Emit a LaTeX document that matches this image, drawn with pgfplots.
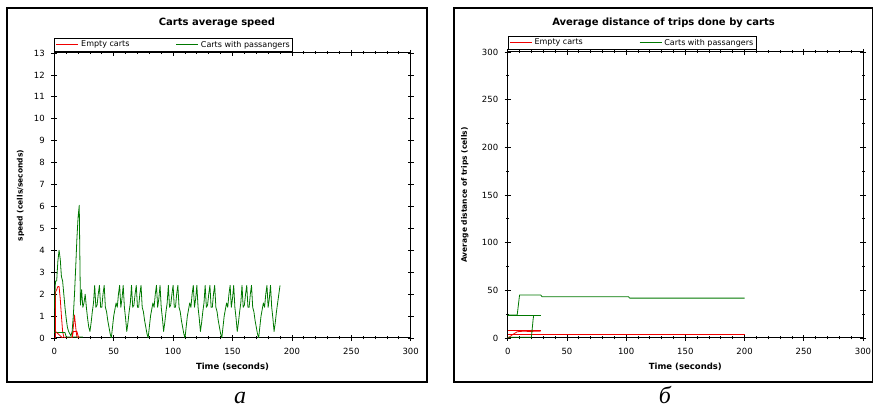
\documentclass[border=0pt]{standalone}
\usepackage{pgfplots}
\pgfplotsset{compat=1.18}
\usepackage{fontspec}
\setmainfont{DejaVu Sans}
\newfontfamily\capfont{Liberation Serif}
\definecolor{cred}{RGB}{240,0,0}
\definecolor{cgreen}{RGB}{0,120,0}
\pgfplotsset{
  panel/.style={
    scale only axis,
    xmin=0, xmax=300, xtick={0,50,...,300}, minor x tick num=4,
    tick align=center, major tick length=6pt, minor tick length=3pt,
    axis line style={line width=1pt},
    every tick/.style={black, line width=0.8pt},
    ticklabel style={font=\fontsize{8.5}{8.5}\selectfont},
    /pgf/number format/assume math mode=true,
    xticklabel style={yshift=-4pt},
    yticklabel style={xshift=-3pt},
    xlabel style={font=\fontsize{8.5}{8.5}\selectfont\bfseries, at={(axis description cs:0.5,0)}, anchor=center, yshift=-29pt},
    ylabel style={font=\fontsize{7.5}{7.5}\selectfont\bfseries, anchor=center},
    title style={font=\fontsize{10}{10}\selectfont\bfseries, anchor=center},
    legend style={anchor=south west, draw=black, line width=0.8pt, inner xsep=1pt, inner ysep=1pt,
      font=\fontsize{8}{8}\selectfont, row sep=0pt},
    legend columns=2,
    legend cell align=left,
    legend image code/.code={\draw[#1, line width=1.5pt] (0pt,0.5pt) -- (22pt,0.5pt);},
    every axis plot/.append style={line width=0.8pt, line join=round},
  }
}
\begin{document}
\begin{tikzpicture}[x=1pt,y=1pt]
\useasboundingbox (0,0) rectangle (874,409);
\draw[line width=1.2pt] (7,401) rectangle (427,27);
\draw[line width=1.2pt] (454,401) rectangle (872.4,27);

\begin{axis}[panel,
  at={(54.3pt,71pt)}, anchor=south west, width=356.4pt, height=285pt,
  ymin=0, ymax=13, ytick={0,1,...,13},
  title={Carts average speed}, title style={at={(axis description cs:0.4565,1)}, yshift=24pt},
  xlabel={Time (seconds)},
  ylabel={speed (cells/seconds)}, ylabel style={at={(axis description cs:-0.095,0.5)}},
  legend style={at={(axis description cs:0,1)}, yshift=1pt,
    /tikz/every even column/.append style={column sep=44pt}},
]
\addplot[cred] coordinates {(0,0) (1,0) (1,2.1) (2,2.2) (3,2.35) (4,2.35) (5,1.8) (6,1.0) (7,0.3) (8,0.05) (9,0) (10,0) (11,0) (12,0) (13,0) (14,0) (15,0.05) (16,0.5) (17,1.05) (18,0.5) (19,0.05) (20,0)};
\addlegendentry{Empty carts}
\addplot[cgreen] coordinates {(0,0.25) (0,1.3) (1,2.6) (2,2.6) (3,3.5) (4,4.0) (5,3.6) (6,2.8) (7,2.6) (8,2.0) (9,1.4) (10,0.9) (11,0.5) (12,0.3) (13,0.2) (14,0.1) (15,0.3) (16,1.0) (17,2.0) (18,3.2) (19,4.5) (20,5.5) (21,6.05) (22,1.5) (23,2.2) (24,1.4) (25,1.6) (26,2.0) (27,1.4) (28,0.9) (29,0.5)
(30,0.3) (31,0.7) (32,1.2) (33,1.6) (34,2.4) (35,1.4) (36,1.5) (37,2.0) (38,2.4) (39,1.4) (40,1.4) (41,2.0) (42,2.4) (43,1.4) (44,1.2) (45,0.8) (46,0.5) (47,0.2)
(48,0) (49,0.5) (50,1.0) (51,1.3) (52,1.6) (53,1.4) (54,2.0) (55,2.4) (56,1.4) (57,1.8) (58,2.4) (59,1.4) (60,0.9) (61,0.3) (62,0.7) (63,1.2) (64,1.6) (65,2.4) (66,1.4) (67,1.5) (68,2.0) (69,2.4) (70,1.4) (71,1.4) (72,2.0) (73,2.4) (74,1.4) (75,1.2) (76,0.8) (77,0.5) (78,0.2)
(79,0) (80,0.5) (81,1.0) (82,1.3) (83,1.6) (84,1.4) (85,2.0) (86,2.4) (87,1.4) (88,1.8) (89,2.4) (90,1.4) (91,0.9) (92,0.3) (93,0.7) (94,1.2) (95,1.6) (96,2.4) (97,1.4) (98,1.5) (99,2.0) (100,2.4) (101,1.4) (102,1.4) (103,2.0) (104,2.4) (105,1.4) (106,1.2) (107,0.8) (108,0.5) (109,0.2)
(110,0) (111,0.5) (112,1.0) (113,1.3) (114,1.6) (115,1.4) (116,2.0) (117,2.4) (118,1.4) (119,1.8) (120,2.4) (121,1.4) (122,0.9) (123,0.3) (124,0.7) (125,1.2) (126,1.6) (127,2.4) (128,1.4) (129,1.5) (130,2.0) (131,2.4) (132,1.4) (133,1.4) (134,2.0) (135,2.4) (136,1.4) (137,1.2) (138,0.8) (139,0.5) (140,0.2)
(141,0) (142,0.5) (143,1.0) (144,1.3) (145,1.6) (146,1.4) (147,2.0) (148,2.4) (149,1.4) (150,1.8) (151,2.4) (152,1.4) (153,0.9) (154,0.3) (155,0.7) (156,1.2) (157,1.6) (158,2.4) (159,1.4) (160,1.5) (161,2.0) (162,2.4) (163,1.4) (164,1.4) (165,2.0) (166,2.4) (167,1.4) (168,1.2) (169,0.8) (170,0.5) (171,0.2)
(172,0) (173,0.5) (174,1.0) (175,1.3) (176,1.6) (177,1.4) (178,2.0) (179,2.4) (180,1.4) (181,1.8) (182,2.4) (183,1.4) (184,0.9) (185,0.3) (186,0.7) (187,1.2) (188,1.6) (189,2.0) (190,2.4)};
\addlegendentry{Carts with passangers}
\addplot[cgreen, forget plot] coordinates {(0,0.25) (9,0.25) (10,0.05) (24,0.05)};
\addplot[cred, forget plot] coordinates {(1,0.3) (3,0.2) (5,0.1) (7,0)};
\addplot[cred, forget plot] coordinates {(15,0) (16,0.3) (17,0.3) (19,0.3) (20,0.1) (21,0)};
\end{axis}

\begin{axis}[panel,
  at={(507.7pt,71pt)}, anchor=south west, width=355.3pt, height=286pt,
  ymin=0, ymax=300, ytick={0,50,...,300}, minor y tick num=1,
  title={Average distance of trips done by carts}, title style={at={(axis description cs:0.4385,1)}, yshift=23pt},
  xlabel={Time (seconds)},
  ylabel={Average distance of trips (cells)}, ylabel style={at={(axis description cs:-0.121,0.5)}},
  legend style={at={(axis description cs:0,1)}, yshift=2pt,
    /tikz/every even column/.append style={column sep=54pt}},
]
\addplot[cred] coordinates {(0,0) (2,1.5) (4,3.5) (6,5) (8,6.5) (10,6.8) (14,7.2) (18,6.8) (22,7) (27.7,7)};
\addlegendentry{Empty carts}
\addplot[cgreen] coordinates {(0,24) (8,24) (10,45) (28,45) (29,43.3) (102,43.3) (103,41.8) (200,41.8)};
\addlegendentry{Carts with passangers}
\addplot[cred, forget plot] coordinates {(0,8) (27.7,8)};
\addplot[cred, forget plot] coordinates {(0,4) (200,4)};
\addplot[cgreen, forget plot] coordinates {(0,24) (27.7,24)};
\addplot[cgreen, forget plot] coordinates {(0,0.8) (20,0.8) (21.5,20) (22,24)};
\end{axis}

\node[font=\capfont\itshape\fontsize{24}{24}\selectfont, anchor=base, inner sep=0pt] at (240,5.5) {а};
\node[font=\capfont\itshape\fontsize{24}{24}\selectfont, anchor=base, inner sep=0pt] at (665,5.5) {б};
\end{tikzpicture}
\end{document}
